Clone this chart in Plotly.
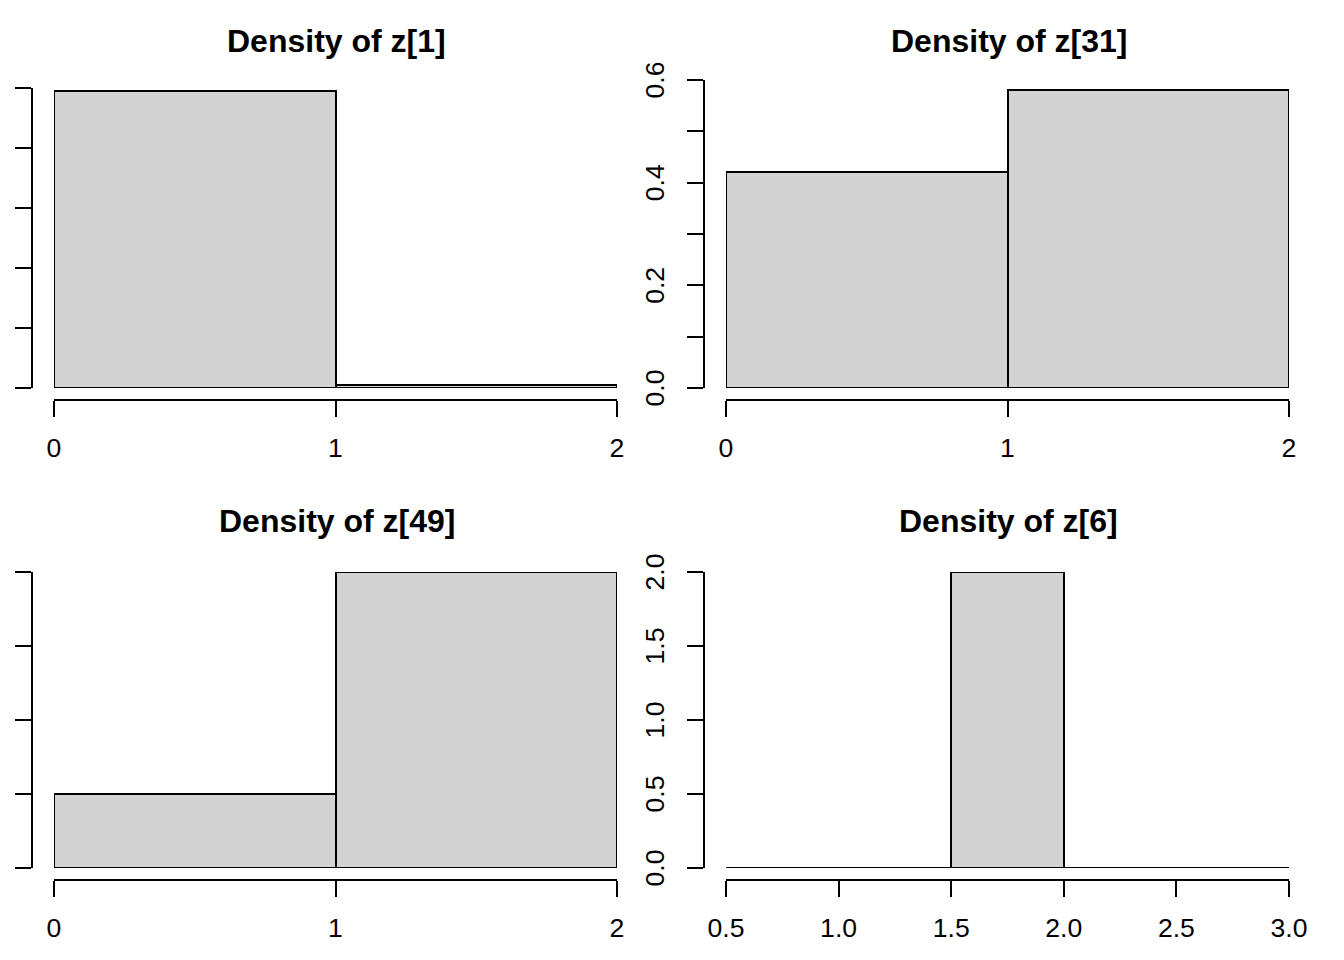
import plotly.graph_objects as go

W, H = 1344, 960
OFF = 8  # the page body adds an 8px margin around the figure

# ---- data ----
titles = ["Density of z[1]", "Density of z[31]", "Density of z[49]", "Density of z[6]"]

edges_1 = [0, 1, 2]
dens_1 = [0.99, 0.01]

edges_31 = [0, 1, 2]
dens_31 = [0.42, 0.58]

edges_49 = [0, 1, 2]
dens_49 = [0.2, 0.8]

edges_6 = [0.5, 1.0, 1.5, 2.0, 2.5, 3.0]
dens_6 = [0.0, 0.0, 2.0, 0.0, 0.0]

xticks_1 = [0, 1, 2]
xticks_31 = [0, 1, 2]
xticks_49 = [0, 1, 2]
xticks_6 = [0.5, 1.0, 1.5, 2.0, 2.5, 3.0]
xlabels_1 = ["0", "1", "2"]
xlabels_31 = ["0", "1", "2"]
xlabels_49 = ["0", "1", "2"]
xlabels_6 = ["0.5", "1.0", "1.5", "2.0", "2.5", "3.0"]

yticks_1 = [0.0, 0.2, 0.4, 0.6, 0.8, 1.0]
ylabels_1 = ["0.0", "0.2", "0.4", "0.6", "0.8", "1.0"]
yticks_31 = [0.0, 0.1, 0.2, 0.3, 0.4, 0.5, 0.6]
ylabels_31 = ["0.0", "", "0.2", "", "0.4", "", "0.6"]
yticks_49 = [0.0, 0.2, 0.4, 0.6, 0.8]
ylabels_49 = ["0.0", "0.2", "0.4", "0.6", "0.8"]
yticks_6 = [0.0, 0.5, 1.0, 1.5, 2.0]
ylabels_6 = ["0.0", "0.5", "1.0", "1.5", "2.0"]

# left-column y labels fall outside the canvas in the reference (not visible)
panels = [
    dict(title=titles[0], edges=edges_1, dens=dens_1, xt=xticks_1, xl=xlabels_1, yt=yticks_1, yl=ylabels_1,
         xpx=(54, 617), ypx=(388, 88), xaxis_px=400, yaxis_px=32, ylab=False, ty=41),
    dict(title=titles[1], edges=edges_31, dens=dens_31, xt=xticks_31, xl=xlabels_31, yt=yticks_31, yl=ylabels_31,
         xpx=(726, 1289), ypx=(388, 80), xaxis_px=400, yaxis_px=704, ylab=True, ty=41),
    dict(title=titles[2], edges=edges_49, dens=dens_49, xt=xticks_49, xl=xlabels_49, yt=yticks_49, yl=ylabels_49,
         xpx=(54, 617), ypx=(868, 572), xaxis_px=880, yaxis_px=32, ylab=False, ty=521),
    dict(title=titles[3], edges=edges_6, dens=dens_6, xt=xticks_6, xl=xlabels_6, yt=yticks_6, yl=ylabels_6,
         xpx=(726, 1289), ypx=(868, 572), xaxis_px=880, yaxis_px=704, ylab=True, ty=521),
]

FONT = "Liberation Sans, Arial, Helvetica, sans-serif"
TICKSIZE = 26.6
TITLESIZE = 32
LW = 2

fig = go.Figure()
layout = {}
annotations = []


def px_x(v):
    return (v - OFF) / W


def px_y(v):
    return 1 - (v - OFF) / H


for i, p in enumerate(panels):
    n = i + 1
    xa = "x" if n == 1 else f"x{n}"
    ya = "y" if n == 1 else f"y{n}"
    xkey = "xaxis" if n == 1 else f"xaxis{n}"
    ykey = "yaxis" if n == 1 else f"yaxis{n}"

    edges = p["edges"]
    dens = p["dens"]
    centers = [(edges[k] + edges[k + 1]) / 2 for k in range(len(dens))]
    widths = [edges[k + 1] - edges[k] for k in range(len(dens))]

    fig.add_trace(go.Bar(
        x=centers, y=dens, width=widths, xaxis=xa, yaxis=ya,
        marker=dict(color="#D3D3D3", line=dict(color="black", width=LW)),
        showlegend=False, cliponaxis=False, hoverinfo="skip",
    ))

    # zero-height bins: R still draws their outline along y = 0
    zx, zy = [], []
    for k, v in enumerate(dens):
        if v == 0:
            zx += [edges[k], edges[k + 1], None]
            zy += [v, v, None]
    if zx:
        fig.add_trace(go.Scatter(
            x=zx, y=zy, mode="lines", xaxis=xa, yaxis=ya,
            line=dict(color="black", width=LW), showlegend=False,
            cliponaxis=False, hoverinfo="skip",
        ))

    x0, x1 = p["xpx"]
    yb, yt = p["ypx"]
    layout[xkey] = dict(
        domain=[px_x(x0), px_x(x1)],
        range=[edges[0], edges[-1]],
        anchor="free", position=px_y(p["xaxis_px"]),
        tickvals=p["xt"], ticktext=p["xl"],
        showline=True, linecolor="black", linewidth=LW,
        ticks="outside", ticklen=16, tickwidth=LW, tickcolor="black",
        showgrid=False, zeroline=False, fixedrange=True,
        tickfont=dict(family=FONT, size=TICKSIZE, color="black"),
        ticklabelstandoff=8,
    )
    layout[ykey] = dict(
        domain=[px_y(yb), px_y(yt)],
        range=[p["yt"][0], p["yt"][-1]],
        anchor="free", position=px_x(p["yaxis_px"]),
        tickvals=p["yt"], ticktext=p["yl"],
        showticklabels=p["ylab"],
        tickangle=-90,
        showline=True, linecolor="black", linewidth=LW,
        ticks="outside", ticklen=16, tickwidth=LW, tickcolor="black",
        showgrid=False, zeroline=False, fixedrange=True,
        tickfont=dict(family=FONT, size=TICKSIZE, color="black"),
        ticklabelstandoff=12,
        ticklabelshift=4,
    )
    cx = px_x((x0 + x1) / 2 + 1)
    cy = px_y(p["ty"])
    annotations.append(dict(
        text=f"<b>{p['title']}</b>", x=cx, y=cy, xref="paper", yref="paper",
        xanchor="center", yanchor="middle", showarrow=False,
        font=dict(family=FONT, size=TITLESIZE, color="black"),
    ))

fig.update_layout(
    width=W, height=H,
    margin=dict(l=0, r=0, t=0, b=0, pad=0),
    template="none",
    paper_bgcolor="white", plot_bgcolor="rgba(0,0,0,0)",
    annotations=annotations,
    bargap=0,
    **layout,
)

fig.write_html("out.html")
